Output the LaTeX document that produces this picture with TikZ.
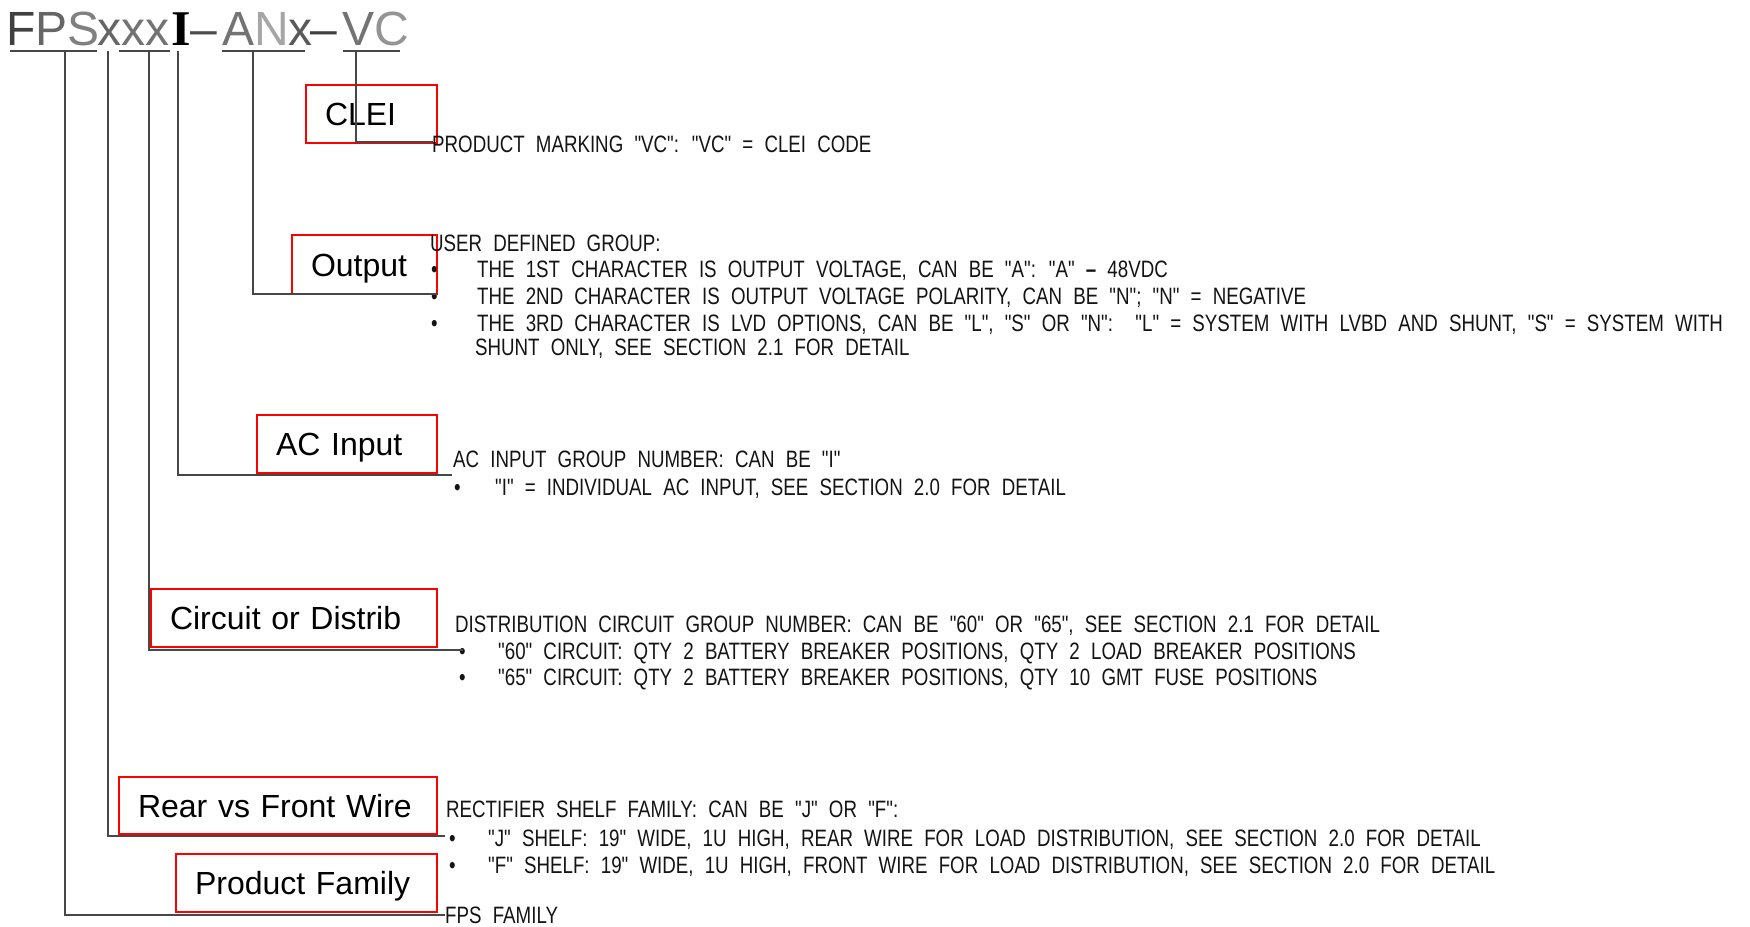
\documentclass[tikz,border=0pt]{standalone}
\usepackage{fontspec}
\setmainfont{Liberation Sans}
\newfontfamily\cadfont[FakeStretch=0.79,WordSpace=2.15]{Liberation Sans}
\newfontfamily\serifbold{Liberation Serif}
\begin{document}
\begin{tikzpicture}[x=1pt,y=-1pt,
  conn/.style={draw=black!72, line width=2pt},
  uline/.style={draw=black!72, line width=2pt},
  lbl/.style={draw=red, line width=1.8pt, anchor=north west, outer sep=0pt, inner xsep=19pt, inner ysep=0pt, align=left, text height=23pt, text depth=0pt, font=\fontsize{32}{36}\selectfont},
  desc/.style={anchor=base west, inner sep=0pt, text height=17pt, text depth=0pt, font=\cadfont\fontsize{23.7}{28}\selectfont, text=black!92},
  hdr/.style={anchor=base west, inner sep=0pt, font=\fontsize{48}{56}\selectfont}
]
\useasboundingbox (0,0) rectangle (1750,926);

% header
\node[hdr] (hFPS) at (6,45) {\textcolor{black!75}{F}\textcolor{black!60}{P}\textcolor{black!50}{S}};
\node[hdr] (hX) at (97,45) {\textcolor{black!60}{x}\textcolor{black!55}{xx}};
\node[hdr, font=\serifbold\bfseries\fontsize{50}{56}\selectfont] (hI) at (171,45) {I};
\node[hdr] (hD1) at (190,45) {\textcolor{black!70}{–}};
\node[hdr] (hANx) at (222,45) {\textcolor{black!55}{A}\textcolor{black!35}{N}\textcolor{black!65}{x}};
\node[hdr] (hD2) at (310,45) {\textcolor{black!75}{–}};
\node[hdr] (hVC) at (342,45) {\textcolor{black!55}{V}\textcolor{black!42}{C}};

\draw[uline] (10,51) -- (97,51);
\draw[uline] (119,51) -- (170,51);
\draw[uline] (222,51) -- (305,51);
\draw[uline] (343,51) -- (400,51);

\coordinate (uFPS) at (65,51);
\coordinate (uX1) at (108,51);
\coordinate (uXX) at (149,51);
\coordinate (uI) at (178,51);
\coordinate (uANx) at (253,51);
\coordinate (uVC) at (356,51);

% label boxes
\node[lbl, text width=93pt, minimum height=58pt] (bCLEI) at (306,85) {CLEI};
\node[lbl, text width=107pt, minimum height=59pt] (bOut) at (292,235) {Output};
\node[lbl, text width=142pt, minimum height=58pt] (bAC) at (257,415) {AC Input};
\node[lbl, text width=248pt, minimum height=58pt] (bCirc) at (151,589) {Circuit or Distrib};
\node[lbl, text width=280pt, minimum height=57pt] (bRear) at (119,777) {Rear vs Front Wire};
\node[lbl, text width=223pt, minimum height=58pt] (bProd) at (176,854) {Product Family};

% descriptions
\node[desc] (tCLEI) at (432,152) {PRODUCT MARKING "VC": "VC" = CLEI CODE};

\node[desc] (tUser) at (430,251) {USER DEFINED GROUP:};
\node[desc] (oB1) at (431,277) {•};
\node[desc] (oB2) at (431,304) {•};
\node[desc] (oB3) at (431,331) {•};
\node[desc] (o1) at (477,277) {THE 1ST CHARACTER IS OUTPUT VOLTAGE, CAN BE "A": "A" \textbf{–} 48VDC};
\node[desc] (o2) at (477,304) {THE 2ND CHARACTER IS OUTPUT VOLTAGE POLARITY, CAN BE "N"; "N" = NEGATIVE};
\node[desc] (o3) at (477,331) {THE 3RD CHARACTER IS LVD OPTIONS, CAN BE "L", "S" OR "N":\ \ "L" = SYSTEM WITH LVBD AND SHUNT, "S" = SYSTEM WITH};
\node[desc] (o4) at (475,355) {SHUNT ONLY, SEE SECTION 2.1 FOR DETAIL};

\node[desc] (tAC) at (453,467) {AC INPUT GROUP NUMBER: CAN BE "I"};
\node[desc] (aB1) at (454,495) {•};
\node[desc] (a1) at (495,495) {"I" = INDIVIDUAL AC INPUT, SEE SECTION 2.0 FOR DETAIL};

\node[desc] (tCirc) at (455,632) {DISTRIBUTION CIRCUIT GROUP NUMBER: CAN BE "60" OR "65", SEE SECTION 2.1 FOR DETAIL};
\node[desc] (cB1) at (459,659) {•};
\node[desc] (cB2) at (459,685) {•};
\node[desc] (c1) at (498,659) {"60" CIRCUIT: QTY 2 BATTERY BREAKER POSITIONS, QTY 2 LOAD BREAKER POSITIONS};
\node[desc] (c2) at (498,685) {"65" CIRCUIT: QTY 2 BATTERY BREAKER POSITIONS, QTY 10 GMT FUSE POSITIONS};

\node[desc] (tRear) at (446,817) {RECTIFIER SHELF FAMILY: CAN BE "J" OR "F":};
\node[desc] (rB1) at (449,846) {•};
\node[desc] (rB2) at (449,873) {•};
\node[desc] (r1) at (488,846) {"J" SHELF: 19" WIDE, 1U HIGH, REAR WIRE FOR LOAD DISTRIBUTION, SEE SECTION 2.0 FOR DETAIL};
\node[desc] (r2) at (488,873) {"F" SHELF: 19" WIDE, 1U HIGH, FRONT WIRE FOR LOAD DISTRIBUTION, SEE SECTION 2.0 FOR DETAIL};

\node[desc] (tFPS) at (445,923) {FPS FAMILY};

% connector ends
\coordinate (eCLEI) at (433,142);
\coordinate (eOut) at (437,294);
\coordinate (eAC) at (452,475);
\coordinate (eCirc) at (463,650);
\coordinate (eRear) at (445,836);
\coordinate (eProd) at (445,915);

\draw[conn] (uVC) |- (eCLEI);
\draw[conn] (uANx) |- (eOut);
\draw[conn] (uI) |- (eAC);
\draw[conn] (uXX) |- (eCirc);
\draw[conn] (uX1) |- (eRear);
\draw[conn] (uFPS) |- (eProd);
\end{tikzpicture}
\end{document}
